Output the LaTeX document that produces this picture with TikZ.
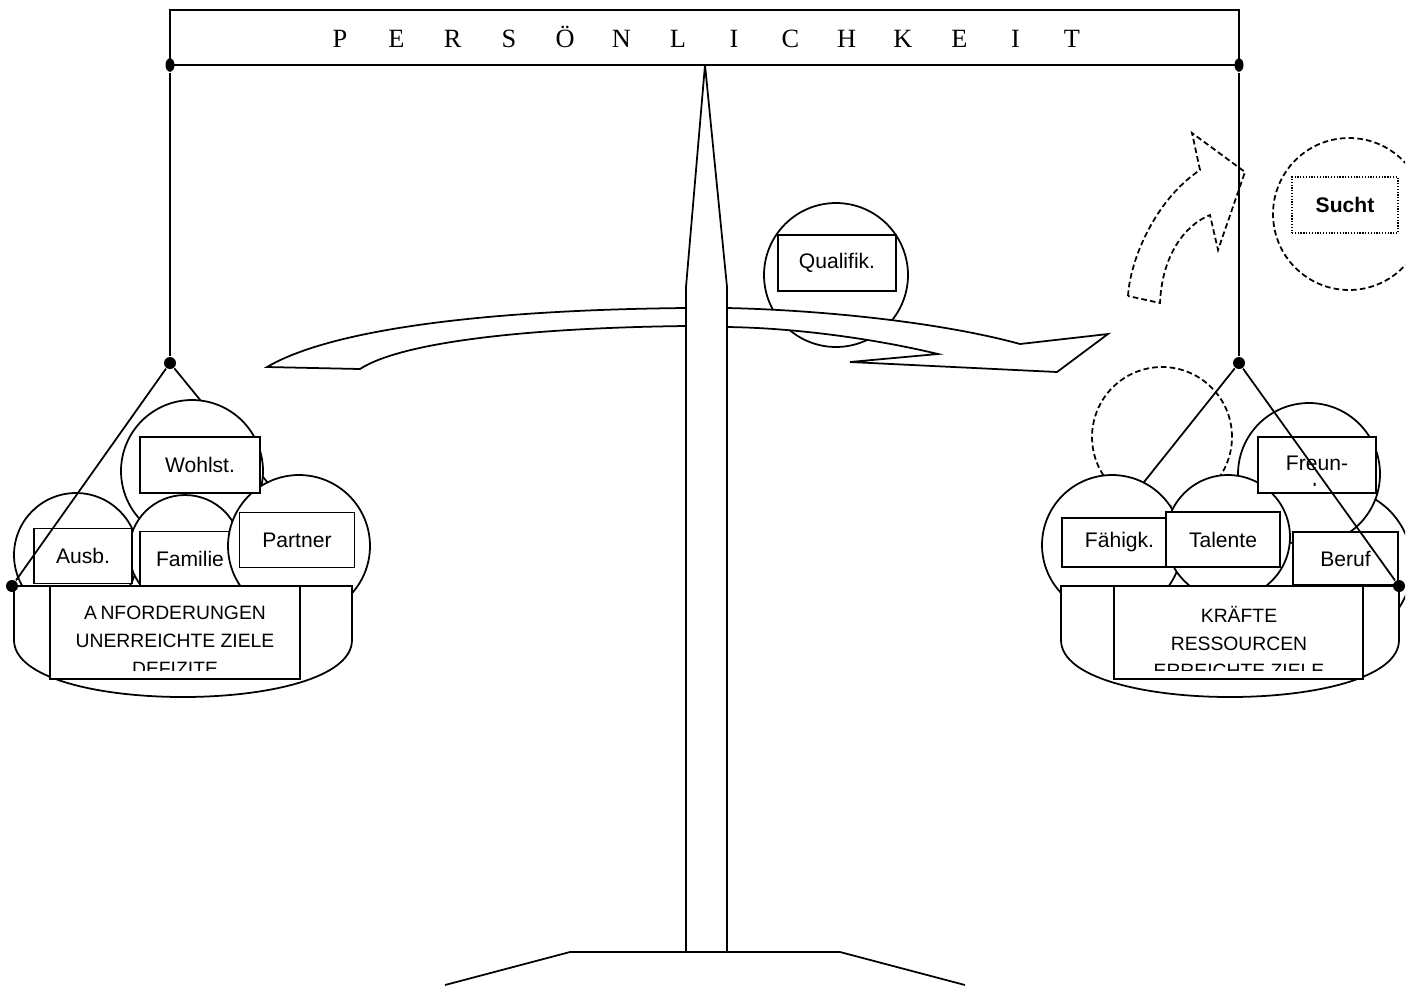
\documentclass[tikz,border=0pt]{standalone}
\usepackage{fontspec}
\setmainfont{Liberation Serif}
\setsansfont{Liberation Sans}
\usetikzlibrary{shapes.geometric}
\newcommand{\tagfont}{\fontsize{12}{15.9}\selectfont}

\begin{document}
\begin{tikzpicture}[x=0.02cm, y=-0.02cm, line width=1pt,
	dot/.style={circle, fill, inner sep=0pt, minimum size=0.24cm},
	topdot/.style={ellipse, fill, inner sep=0pt, minimum width=0.18cm, minimum height=0.27cm},
	ball/.style={draw, fill=white},
	ghost/.style={draw, dash pattern=on 3.2pt off 1.8pt},
	tag/.style={draw, fill=white, inner sep=0pt, font=\sffamily\tagfont},
	pan/.style={draw, fill=white}]
	\useasboundingbox (0,0) rectangle (1412,985);
	\clip (0,0) rectangle (1405,985);
	
	\draw[ball] (836,275) circle[radius=1.44cm];
	\node[tag, minimum width=2.36cm, minimum height=1.12cm] (q1) at (837,263) {Qualifik.};
	\draw[ball] (267,367) .. controls (330,330) and (480,310) .. (686,308) -- (727,308)
		.. controls (820,310) and (940,322) .. (1020,344) -- (1108,334) -- (1057,372) -- (850,362) -- (938,354)
		.. controls (880,340) and (800,328) .. (727,327) -- (686,326)
		.. controls (520,328) and (400,343) .. (360,369) -- cycle;
	
	\draw[ball] (705,65) -- (727,287) -- (727,952) -- (686,952) -- (686,287) -- cycle;
	\draw (445,985) -- (570,952) -- (840,952) -- (965,985);
	
	\draw (170,10) rectangle (1239,65);
	\foreach \ch [count=\i from 0] in {P,E,R,S,Ö,N,L,I,C,H,K,E,I,T}
		\node[anchor=base, font=\rmfamily\fontsize{15}{18}\selectfont] (t\i) at (340+56.3*\i,47) {\ch};
	\node[topdot] (lt) at (170,65) {};
	\node[topdot] (rt) at (1239,65) {};
	\node[dot] (lm) at (170,363) {};
	\node[dot] (rm) at (1239,363) {};
	\draw (lt) -- (lm);
	\draw (rt) -- (rm);
	
	% linke Schale
	\coordinate (lpr) at (352,586);
	\draw (lm) -- (lpr);
	\draw[ball] (192,471) circle[radius=1.42cm];
	\draw[ball] (76,555) circle[radius=1.24cm];
	\draw[ball] (185,551) circle[radius=1.12cm];
	\node[tag, minimum width=1.96cm, minimum height=1.1cm] (a1) at (83,556) {Ausb.};
	\node[tag, minimum width=2cm, minimum height=1.1cm] (a2) at (190,559) {Familie};
	\draw[ball] (299,546) circle[radius=1.42cm];
	\node[tag, minimum width=2.3cm, minimum height=1.1cm] (a3) at (297,540) {Partner};
	\node[tag, minimum width=2.4cm, minimum height=1.12cm] (a4) at (200,465) {Wohlst.};
	\draw[pan] (14,586) -- (14,640) .. controls (14,716) and (352,716) .. (352,640) -- (352,586) -- cycle;
	\node[tag, minimum width=5cm, minimum height=1.86cm] (A) at (175,632.5) {};
	\begin{scope}
		\clip (51,587) rectangle (299,670);
		\node[align=center, font=\sffamily\fontsize{11}{15.9}\selectfont] (At) at (175,641) {A\kern2pt NFORDERUNGEN\\UNERREICHTE ZIELE\\DEFIZITE};
	\end{scope}
	\node[dot] (lb) at (12,586) {};
	\draw (lm) -- (lb);
	
	% rechte Schale
	\coordinate (rpl) at (1061,586);
	\draw[ghost] (1162,437) circle[radius=1.4cm];
	\draw (rm) -- (rpl);
	\draw[ball] (1335,565) circle[radius=1.54cm];
	\draw[ball] (1309,474) circle[radius=1.42cm];
	\draw[ball] (1112,545) circle[radius=1.4cm];
	\draw[ball] (1228,537) circle[radius=1.24cm];
	\node[tag, minimum width=2.16cm, minimum height=0.98cm] (b1) at (1116,542.5) {\hspace{4pt}Fähigk.};
	\node[tag, minimum width=2.28cm, minimum height=1.1cm] (b2) at (1223,539.5) {Talente};
	\node[tag, minimum width=2.36cm, minimum height=1.12cm] (b3) at (1317,465) {};
	\begin{scope}
		\clip (1259,438) rectangle (1375,485);
		\node[align=center, font=\sffamily\tagfont] (b3t) at (1317,477) {Freun-\\de};
	\end{scope}
	\node[tag, minimum width=2.1cm, minimum height=1.06cm] (b4) at (1345.5,558.5) {Beruf};
	\draw[pan] (1061,586) -- (1061,640) .. controls (1061,716) and (1399,716) .. (1399,640) -- (1399,586) -- cycle;
	\node[tag, minimum width=4.98cm, minimum height=1.86cm] (B) at (1238.5,632.5) {};
	\begin{scope}
		\clip (1115,587) rectangle (1362,670);
		\node[align=center, font=\sffamily\fontsize{11}{15.9}\selectfont] (Bt) at (1239,642) {KRÄFTE\\RESSOURCEN\\ERREICHTE ZIELE};
	\end{scope}
	\node[dot] (rb) at (1399,586) {};
	\draw (rm) -- (rb);
	
	\draw[ghost] (1128,296) .. controls (1130,260) and (1155,200) .. (1200,170) -- (1192,133) -- (1245,172) -- (1218,250) -- (1210,215)
		.. controls (1185,225) and (1162,255) .. (1160,303) -- cycle;
	\draw[ghost] (1349,214) circle[radius=1.52cm];
	\node[draw, line width=0.7pt, dash pattern=on 0.7pt off 0.9pt, minimum width=2.12cm, minimum height=1.12cm, font=\sffamily\bfseries\fontsize{12}{14}\selectfont] (S) at (1345,205) {Sucht};
\end{tikzpicture}
\end{document}
